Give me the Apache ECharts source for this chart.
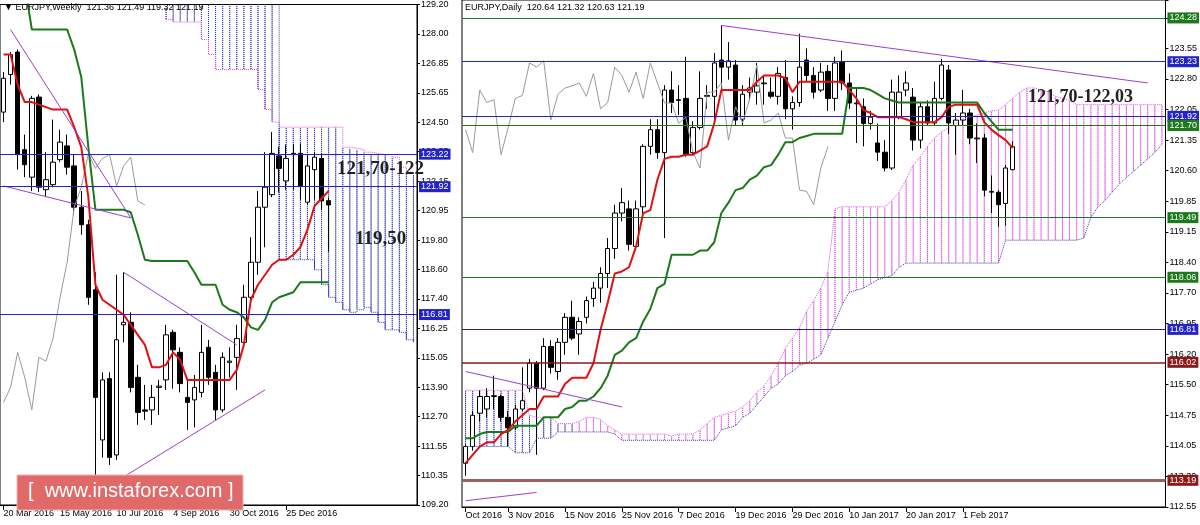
<!DOCTYPE html>
<html><head><meta charset="utf-8">
<script src="https://cdn.jsdelivr.net/npm/echarts@6/dist/echarts.min.js"></script>
<style>html,body{margin:0;padding:0;background:#fff}#c{width:1200px;height:525px}</style>
</head><body><div id="c"></div>
<script>
// ---------- WEEKLY (left) ----------
const wSlots = 59;
const wXLabels = {0:'20 Mar 2016',8:'15 May 2016',16:'10 Jul 2016',24:'4 Sep 2016',32:'30 Oct 2016',40:'25 Dec 2016'};
const wYLabels = ['109.20','110.35','111.55','112.70','113.90','115.05','116.25','117.40','118.60','119.80','120.95','122.15','123.35','124.50','125.65','126.85','128.00','129.20'];
// [open, close, low, high]
const wCandles = [
[124.9,126.25,124.5,126.5],[126.4,127.2,126.0,127.3],[127.3,123.2,122.6,127.4],[123.4,122.8,122.3,124.0],
[122.3,125.45,121.75,125.55],[125.5,121.9,121.7,125.6],[121.8,122.2,121.5,123.3],[122.0,122.9,121.9,124.6],
[123.0,123.7,122.9,124.2],[123.55,122.7,122.4,124.0],[122.75,121.1,120.8,123.2],[121.1,120.4,120.0,121.75],
[120.4,117.5,117.2,120.6],[117.8,113.5,109.6,118.5],[111.8,114.2,111.1,114.5],[114.25,111.1,110.8,114.5],
[111.2,115.8,111.0,118.4],[116.4,116.5,115.7,118.5],[116.5,113.9,113.7,116.9],[114.3,112.9,112.4,114.8],
[113.0,112.95,112.6,114.0],[113.0,113.5,112.4,114.0],[113.9,113.95,112.8,114.2],[114.2,116.0,113.8,116.4],
[116.1,115.4,113.85,116.2],[115.3,114.05,113.7,115.5],[113.5,113.3,112.2,114.2],[113.4,113.9,112.3,114.4],
[113.7,115.3,113.5,116.4],[115.5,114.3,114.0,115.8],[114.5,113.0,112.6,114.8],[113.0,115.1,112.9,115.3],
[114.9,114.95,114.3,115.5],[115.1,115.85,113.8,116.4],[115.7,117.5,115.6,118.0],[117.5,118.9,117.3,119.9],
[118.9,121.1,118.4,121.75],[121.1,121.9,119.5,123.3],[121.6,123.25,121.5,124.1],[123.15,122.65,121.7,123.5],
[122.15,123.05,121.8,123.6],[123.25,123.2,121.8,123.6],[123.25,121.95,121.4,123.65],[121.3,122.75,121.2,123.2],
[122.6,123.1,121.4,123.3],[123.05,121.35,121.0,123.25],[121.36,121.19,119.32,121.49]];
const wTenkan = [127.2,127.2,126.0,125.3,125.3,125.2,125.1,125.0,125.0,125.0,124.3,123.5,121.5,118.0,117.4,117.2,117.0,116.8,116.4,116.0,115.6,114.7,114.7,114.8,115.3,115.0,114.2,114.2,114.2,114.2,114.2,114.2,114.2,114.6,115.6,117.4,118.0,118.4,118.8,119.0,119.0,119.2,119.5,120.2,121.15,121.45,121.75];
const wKijun = [131,131,131,130,128.2,128.2,128.2,128.2,128.2,128.2,127.4,126.3,123.5,121.0,121.0,121.0,121.0,121.0,120.9,120.0,119.0,118.95,118.95,118.95,118.95,118.95,118.95,118.5,118.0,118.0,118.0,117.2,117.0,116.9,116.7,116.3,116.2,116.6,117.3,117.5,117.6,117.7,118.1,118.1,118.1,118.1,118.1];
// cloud spans from slot 23 to 58
const wCloudStart = 23;
const wSpanPink = [128.6,128.5,128.5,128.5,128.5,127.8,127.2,126.6,126.6,126.6,126.6,126.6,126.6,125.8,125.0,124.5,124.3,124.3,124.3,124.3,124.3,124.3,124.3,124.3,124.3,123.5,123.45,123.4,123.3,123.25,123.2,123.2,123.1,122.7,122.5,122.4];
const wSpanBlue = [131,131,131,131,131,131,131,131,131,131,131,131,131,131,131,131,119.0,119.0,119.0,119.0,119.0,118.6,118.0,117.5,117.3,117.0,116.9,117.0,117.1,116.9,116.5,116.2,116.2,116.1,115.8,115.7];
const wLevels = [{v:123.22,c:'#2323c8',bg:'#2323c8'},{v:121.92,c:'#2323c8',bg:'#2323c8'},{v:116.81,c:'#2323c8',bg:'#2323c8'}];
const wPrice = 121.19;
const wTrend = [[[1,128.2],[18,120.67]],[[0,121.95],[18,120.67]],[[17,118.5],[33,115.6]],[[14,109.8],[37,113.8]]];

// ---------- DAILY (right) ----------
const dSlots = 99;
const dXLabels = {0:'Oct 2016',6:'3 Nov 2016',14:'15 Nov 2016',22:'25 Nov 2016',30:'7 Dec 2016',38:'19 Dec 2016',46:'29 Dec 2016',54:'10 Jan 2017',62:'20 Jan 2017',70:'1 Feb 2017'};
const dYLabels = ['112.55','113.30','114.05','114.75','115.50','116.20','116.95','117.70','118.40','119.15','119.85','120.60','121.35','122.05','122.80','123.55'];
const dCandles = [
[113.6,114.0,113.3,114.05],[114.0,114.75,113.9,114.85],[114.8,115.2,114.6,115.35],[114.9,115.2,114.7,115.4],
[115.2,115.22,114.9,115.7],[115.2,114.7,114.6,115.25],[114.7,114.45,114.0,114.85],[114.45,114.9,114.4,115.0],
[114.9,115.1,114.85,115.9],[115.4,116.0,115.3,116.1],[116.0,115.4,113.8,116.05],[115.4,116.4,115.35,116.6],
[116.4,115.9,115.75,116.55],[115.8,116.5,115.6,116.6],[116.5,117.1,116.2,117.2],[117.1,116.6,116.55,117.5],
[116.7,117.0,116.2,117.1],[117.1,117.5,116.95,117.6],[117.55,117.8,117.35,117.95],[117.8,118.15,117.45,118.3],
[118.15,118.75,117.8,119.0],[118.75,119.6,118.5,119.8],[119.6,119.85,119.4,120.2],[119.7,118.85,118.7,119.9],
[118.8,119.7,118.7,119.9],[119.75,121.2,119.55,121.25],[121.2,121.6,121.0,121.85],[121.6,121.05,120.9,121.85],
[121.05,122.55,119.0,122.67],[122.55,122.25,122.0,123.0],[122.3,122.32,121.95,122.67],[122.35,121.0,120.95,123.35],
[121.05,121.65,121.0,121.8],[121.65,122.35,121.6,123.0],[122.4,122.42,122.1,122.67],[122.4,123.2,121.75,123.44],
[123.27,123.1,122.55,124.1],[123.1,123.25,122.8,123.7],[123.15,121.83,121.7,123.27],[121.85,122.45,121.7,122.67],
[122.5,122.6,122.3,122.85],[122.5,122.65,122.2,123.2],[122.7,122.72,122.2,122.9],[122.5,122.4,122.35,122.85],
[122.4,122.95,122.2,123.1],[122.85,122.1,121.85,123.27],[122.1,122.25,121.6,122.4],[122.25,123.1,122.15,123.9],
[123.27,122.9,122.75,123.55],[122.9,122.5,122.35,123.1],[122.55,122.98,122.5,123.2],[123.0,122.35,122.05,123.15],
[122.35,123.2,122.05,123.35],[123.22,122.72,122.55,123.5],[122.72,122.24,122.1,122.95],[122.22,122.24,121.28,122.6],
[122.15,121.75,121.2,122.35],[121.75,121.9,121.6,122.05],[121.28,121.06,120.85,121.75],[121.06,120.68,120.6,121.35],
[120.68,122.5,120.63,122.8],[121.9,122.5,121.85,122.9],[122.55,122.72,122.4,123.0],[122.38,121.35,121.1,122.6],
[121.35,122.15,121.15,122.25],[122.15,121.76,121.7,122.3],[121.76,122.35,121.7,122.75],[122.35,123.15,122.3,123.3],
[123.03,121.76,121.5,123.15],[121.7,121.83,121.0,122.0],[121.83,122.0,121.7,122.55],[122.0,121.4,121.25,122.1],
[121.38,121.4,120.8,121.75],[121.4,120.15,120.0,121.5],[120.1,120.12,119.6,120.5],[120.1,119.8,119.27,120.15],
[119.83,120.68,119.3,120.75],[120.64,121.19,120.63,121.32]];
const dTenkan = [113.6,113.8,114.0,114.1,114.1,114.3,114.4,114.6,114.75,114.9,114.9,115.2,115.2,115.2,115.5,115.65,115.65,115.65,116.0,116.8,117.45,118.15,118.2,118.3,118.8,119.6,119.67,120.4,120.9,120.95,120.95,121.0,121.0,121.1,121.2,121.75,122.55,122.55,122.55,122.55,122.55,122.75,122.9,122.9,122.9,122.84,122.5,122.75,122.75,122.75,122.75,122.75,122.75,122.75,122.55,122.35,122.07,122.0,121.9,121.9,121.9,121.9,121.85,121.78,121.78,121.78,121.78,121.9,122.15,122.2,122.2,122.2,122.2,121.78,121.6,121.47,121.35,121.16];
const dKijun = [114.2,114.2,114.3,114.35,114.35,114.35,114.35,114.5,114.5,114.5,114.5,114.7,114.7,114.7,114.9,114.95,115.1,115.1,115.2,115.4,115.7,116.2,116.3,116.5,116.6,117.0,117.3,117.8,117.9,118.6,118.6,118.6,118.6,118.7,118.7,118.9,119.6,119.85,120.15,120.2,120.4,120.5,120.7,120.75,121.0,121.3,121.3,121.4,121.45,121.5,121.5,121.5,121.5,121.5,122.6,122.6,122.6,122.55,122.45,122.35,122.3,122.25,122.25,122.25,122.25,122.25,122.25,122.25,122.25,122.25,122.25,122.25,122.25,122.0,121.8,121.6,121.6,121.6];
const dSpanUpper = [115.35,115.35,115.35,115.35,115.35,115.35,115.35,115.35,115.35,114.75,114.7,114.7,114.7,114.55,114.55,114.55,114.6,114.7,114.7,114.65,114.5,114.4,114.3,114.3,114.3,114.3,114.3,114.3,114.3,114.25,114.3,114.3,114.3,114.4,114.55,114.7,114.75,114.8,114.85,114.95,115.1,115.3,115.45,115.7,116.0,116.35,116.6,116.85,117.25,117.5,117.8,118.2,119.7,119.75,119.75,119.75,119.75,119.75,119.75,119.75,119.9,120.1,120.4,120.75,120.95,121.2,121.4,121.55,121.65,121.75,121.85,121.9,121.95,122.0,122.05,122.07,122.2,122.35,122.5,122.6,122.6,122.55,122.5,122.4,122.35,122.3,122.2,122.2,122.2,122.2,122.2,122.2,122.2,122.2,122.2,122.2,122.2,122.2,122.2];
const dSpanLower = [114.0,114.0,114.0,114.0,114.0,114.0,114.0,113.85,113.85,113.85,114.2,114.2,114.2,114.35,114.35,114.35,114.35,114.35,114.35,114.35,114.35,114.3,114.15,114.15,114.15,114.15,114.15,114.15,114.15,114.15,114.15,114.15,114.15,114.15,114.15,114.15,114.4,114.45,114.5,114.7,114.8,115.0,115.2,115.4,115.5,115.7,115.8,115.95,116.0,116.1,116.2,116.6,117.0,117.4,117.7,117.75,117.8,117.9,118.0,118.05,118.1,118.3,118.4,118.4,118.4,118.4,118.4,118.4,118.4,118.4,118.4,118.4,118.4,118.4,118.4,118.4,118.95,118.95,118.95,118.95,118.95,118.95,118.95,118.95,118.95,118.95,118.95,119.0,119.5,119.75,119.9,120.1,120.3,120.45,120.6,120.75,120.9,121.05,121.25];
const dPinkFrom = 16;
const dLevels = [
 {v:124.28,c:'#1c7a1c',bg:'#1c7a1c'},{v:123.23,c:'#2323c8',bg:'#2323c8'},{v:121.92,c:'#2323c8',bg:'#2323c8'},
 {v:121.70,c:'#1c7a1c',bg:'#1c7a1c'},{v:119.49,c:'#1c7a1c',bg:'#1c7a1c'},{v:118.06,c:'#1c7a1c',bg:'#1c7a1c'},
 {v:116.81,c:'#23238c',bg:'#2323c8'},{v:116.02,c:'#8b1a1a',bg:'#8b1a1a',w:1.5},{v:113.19,c:'#a06060',bg:'#8b1a1a',w:3}];
const dPrice = 121.19;
const dTrend = [[[36,124.1],[96,122.72]],[[0,115.8],[22,114.95]],[[0,112.7],[10,112.9]]];

// ---------- build ----------
const idx = n => Array.from({length:n},(_,i)=>i);
const pad = (arr,n,off=0) => idx(n).map(i => (i-off>=0 && i-off<arr.length) ? arr[i-off] : '-');
const chikou = (c,n) => idx(n).map(i => (i+26<c.length) ? c[i+26][1] : '-');

function levelLines(levels, price){
  const data = levels.map(l => ({yAxis:l.v, lineStyle:{color:l.c,width:l.w||1,type:'solid'},
    label:{show:true,position:'end',distance:2,formatter:l.v.toFixed(2),backgroundColor:l.bg,color:'#fff',fontSize:9,padding:[1,2]}}));
  data.push({yAxis:price, lineStyle:{opacity:0},
    label:{show:true,position:'end',distance:2,formatter:price.toFixed(2),backgroundColor:'#000',color:'#fff',fontSize:9,padding:[1,2]}});
  return {silent:true,symbol:'none',animation:false,data};
}
function trendLines(tr){
  return {silent:true,symbol:'none',animation:false,label:{show:false},
    lineStyle:{color:'#9a3fd0',type:'solid',width:1},
    data: tr.map(t => [{coord:t[0]},{coord:t[1]}])};
}

// weekly cloud bars
const wUp=[],wLo=[];
for(let i=0;i<wSlots;i++){
  const k=i-wCloudStart;
  if(k>=0 && k<wSpanPink.length){wUp.push(Math.max(wSpanPink[k],wSpanBlue[k]));wLo.push(Math.min(wSpanPink[k],wSpanBlue[k]));}
  else {wUp.push('-');wLo.push('-');}
}
const wBase = wLo.map(v=>v);
const wH = wUp.map((v,i)=> v==='-'?'-':+(v-wLo[i]).toFixed(3));
const dBase = dSpanLower.slice();
const dH = dSpanUpper.map((v,i)=>({value:+(v-dSpanLower[i]).toFixed(3),
  itemStyle:{borderColor: i>=dPinkFrom ? '#e050e0' : '#3535b5'}}));

const wMin=109.2,wMax=129.2,wInt=(wMax-wMin)/17;
const dMin=112.55,dMax=124.71,dInt=11/15;

const option = {
  animation:false,
  backgroundColor:'#fff',
  grid:[
    {left:0,top:3,right:783,bottom:20,show:true,borderColor:'#000',borderWidth:1},
    {left:462,top:0,right:31,bottom:18,show:true,borderColor:'#000',borderWidth:1}
  ],
  xAxis:[
    {type:'category',gridIndex:0,data:idx(wSlots),boundaryGap:true,
     axisLine:{lineStyle:{color:'#000'}},axisTick:{show:true,alignWithLabel:true,interval:(i)=>wXLabels[i]!==undefined,lineStyle:{color:'#000'}},
     axisLabel:{interval:(i)=>wXLabels[i]!==undefined,formatter:(v)=>wXLabels[v]||'',fontSize:9,color:'#000',align:'left',margin:4,fontFamily:'Arial'},
     splitLine:{show:false}},
    {type:'category',gridIndex:1,data:idx(dSlots),boundaryGap:true,
     axisLine:{lineStyle:{color:'#000'}},axisTick:{show:true,alignWithLabel:true,interval:(i)=>dXLabels[i]!==undefined,lineStyle:{color:'#000'}},
     axisLabel:{interval:(i)=>dXLabels[i]!==undefined,formatter:(v)=>dXLabels[v]||'',fontSize:9,color:'#000',align:'left',margin:4,fontFamily:'Arial'},
     splitLine:{show:false}}
  ],
  yAxis:[
    {type:'value',gridIndex:0,position:'right',min:wMin,max:wMax,interval:wInt,scale:true,
     axisLine:{show:true,lineStyle:{color:'#000'}},axisTick:{show:true,inside:false,length:3},
     axisLabel:{fontSize:9,color:'#000',margin:4,fontFamily:'Arial',formatter:(v)=>{const k=Math.round((v-wMin)/wInt);return wYLabels[k]||'';}},
     splitLine:{show:false}},
    {type:'value',gridIndex:1,position:'right',min:dMin,max:dMax,interval:dInt,scale:true,
     axisLine:{show:true,lineStyle:{color:'#000'}},axisTick:{show:true,length:3},
     axisLabel:{fontSize:9,color:'#000',margin:4,fontFamily:'Arial',formatter:(v)=>{const k=Math.round((v-dMin)/dInt);return dYLabels[k]||'';}},
     splitLine:{show:false}}
  ],
  series:[
    // weekly cloud
    {type:'bar',xAxisIndex:0,yAxisIndex:0,stack:'wc',data:wBase,barWidth:1,itemStyle:{color:'transparent'},silent:true},
    {type:'bar',xAxisIndex:0,yAxisIndex:0,stack:'wc',data:wH,barWidth:1,silent:true,
     itemStyle:{color:'transparent',borderColor:'#3535b5',borderWidth:1,borderType:'dotted'}},
    {type:'line',xAxisIndex:0,yAxisIndex:0,data:pad(wSpanPink,wSlots,wCloudStart),step:'end',symbol:'none',lineStyle:{color:'#e050e0',width:1,type:'dotted'}},
    {type:'line',xAxisIndex:0,yAxisIndex:0,data:pad(wSpanBlue,wSlots,wCloudStart),step:'end',symbol:'none',lineStyle:{color:'#3535b5',width:1,type:'dotted'}},
    {type:'line',xAxisIndex:0,yAxisIndex:0,data:chikou(wCandles,wSlots),symbol:'none',lineStyle:{color:'#9a9a9a',width:1}},
    {type:'line',xAxisIndex:0,yAxisIndex:0,data:pad(wKijun,wSlots),symbol:'none',lineStyle:{color:'#1a7a1a',width:2}},
    {type:'line',xAxisIndex:0,yAxisIndex:0,data:pad(wTenkan,wSlots),symbol:'none',lineStyle:{color:'#e01010',width:2},
     markLine:trendLines(wTrend)},
    {type:'candlestick',xAxisIndex:0,yAxisIndex:0,data:pad(wCandles,wSlots),barWidth:5,
     itemStyle:{color:'#fff',color0:'#000',borderColor:'#000',borderColor0:'#000',borderWidth:1},
     markLine:levelLines(wLevels,wPrice)},
    // daily cloud
    {type:'bar',xAxisIndex:1,yAxisIndex:1,stack:'dc',data:dBase,barWidth:1,itemStyle:{color:'transparent'},silent:true},
    {type:'bar',xAxisIndex:1,yAxisIndex:1,stack:'dc',data:dH,barWidth:1,silent:true,
     itemStyle:{color:'transparent',borderWidth:1,borderType:'dotted'}},
    {type:'line',xAxisIndex:1,yAxisIndex:1,data:dSpanUpper,symbol:'none',lineStyle:{color:'#e050e0',width:1,type:'dotted'}},
    {type:'line',xAxisIndex:1,yAxisIndex:1,data:dSpanLower,symbol:'none',lineStyle:{color:'#3535b5',width:1,type:'dotted'}},
    {type:'line',xAxisIndex:1,yAxisIndex:1,data:chikou(dCandles,dSlots),symbol:'none',lineStyle:{color:'#9a9a9a',width:1}},
    {type:'line',xAxisIndex:1,yAxisIndex:1,data:pad(dKijun,dSlots),symbol:'none',lineStyle:{color:'#1a7a1a',width:2}},
    {type:'line',xAxisIndex:1,yAxisIndex:1,data:pad(dTenkan,dSlots),symbol:'none',lineStyle:{color:'#e01010',width:2},
     markLine:trendLines(dTrend)},
    {type:'candlestick',xAxisIndex:1,yAxisIndex:1,data:pad(dCandles,dSlots),barWidth:5,
     itemStyle:{color:'#fff',color0:'#000',borderColor:'#000',borderColor0:'#000',borderWidth:1},
     markLine:levelLines(dLevels,dPrice)}
  ],
  graphic:[
    {type:'rect',shape:{x:0,y:0,width:460,height:525},style:{fill:'transparent'},silent:true,z:-10},
    {type:'text',left:4,top:3,style:{text:'▼ EURJPY,Weekly  121.36 121.49 119.32 121.19',font:'9px Arial',fill:'#000'},z:100},
    {type:'text',left:465,top:3,style:{text:'EURJPY,Daily  120.64 121.32 120.63 121.19',font:'9px Arial',fill:'#000'},z:100},
    {type:'text',left:337,top:160,style:{text:'121,70-122',font:'bold 19px "Liberation Serif"',fill:'#222'},z:100},
    {type:'text',left:355,top:230,style:{text:'119,50',font:'bold 19px "Liberation Serif"',fill:'#222'},z:100},
    {type:'text',left:1028,top:88,style:{text:'121,70-122,03',font:'bold 18px "Liberation Serif"',fill:'#222'},z:100},
    {type:'rect',shape:{x:17,y:475,width:226,height:35},style:{fill:'#e06a6a',stroke:'#f4b0b0',lineWidth:1},z:100},
    {type:'text',left:28,top:481,style:{text:'[  www.instaforex.com ]',font:'20px "Liberation Sans"',fill:'#fff'},z:101}
  ]
};
const chart = echarts.init(document.getElementById('c'));
chart.setOption(option);
</script></body></html>
